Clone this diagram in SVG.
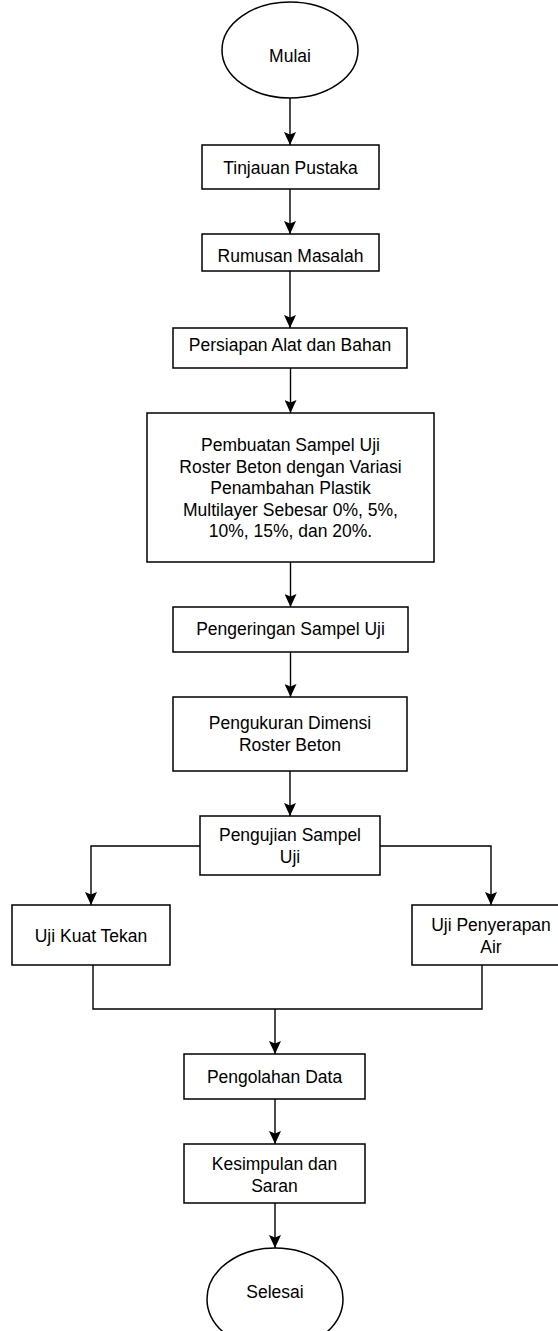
<svg xmlns="http://www.w3.org/2000/svg" width="558" height="1331" viewBox="0 0 558 1331">
  <style>
    .shape { fill: #ffffff; stroke: #000000; stroke-width: 1.5; }
    .edge { fill: none; stroke: #000000; stroke-width: 1.4; }
    .lbl { font-family: "Liberation Sans", Arial, sans-serif; font-size: 17.5px; fill: #000000; text-anchor: middle; }
  </style>
  <defs>
    <marker id="arrow" markerUnits="userSpaceOnUse" markerWidth="13" markerHeight="12" viewBox="0 0 13 12" refX="13" refY="6" orient="auto">
      <path d="M0,0 L13,6 L0,12 L2.5,6 Z" fill="#000000"/>
    </marker>
  </defs>
  <rect width="558" height="1331" fill="#ffffff"/>

  <g id="connectors">
    <line class="edge" x1="290" y1="98" x2="290" y2="145" marker-end="url(#arrow)"/>
    <line class="edge" x1="290" y1="189" x2="290" y2="234" marker-end="url(#arrow)"/>
    <line class="edge" x1="290" y1="271" x2="290" y2="328" marker-end="url(#arrow)"/>
    <line class="edge" x1="290.5" y1="368" x2="290.5" y2="413" marker-end="url(#arrow)"/>
    <line class="edge" x1="290.5" y1="562" x2="290.5" y2="607" marker-end="url(#arrow)"/>
    <line class="edge" x1="290.5" y1="652" x2="290.5" y2="697" marker-end="url(#arrow)"/>
    <line class="edge" x1="290" y1="771" x2="290" y2="816" marker-end="url(#arrow)"/>
    <polyline class="edge" points="200,846 91,846 91,905" marker-end="url(#arrow)"/>
    <polyline class="edge" points="380,846 491,846 491,905" marker-end="url(#arrow)"/>
    <polyline class="edge" points="93,965 93,1009 482,1009 482,965"/>
    <line class="edge" x1="275" y1="1009" x2="275" y2="1054" marker-end="url(#arrow)"/>
    <line class="edge" x1="275" y1="1099" x2="275" y2="1144" marker-end="url(#arrow)"/>
    <line class="edge" x1="275" y1="1203" x2="275" y2="1248" marker-end="url(#arrow)"/>
  </g>

  <g id="mulai">
    <ellipse class="shape" cx="290" cy="50" rx="68" ry="48"/>
    <text class="lbl" x="290" y="62">Mulai</text>
  </g>
  <g id="tinjauan">
    <rect class="shape" x="202" y="145" width="177" height="44"/>
    <text class="lbl" x="290.5" y="173.5">Tinjauan Pustaka</text>
  </g>
  <g id="rumusan">
    <rect class="shape" x="202" y="234" width="177" height="37"/>
    <text class="lbl" x="290.5" y="261.5">Rumusan Masalah</text>
  </g>
  <g id="persiapan">
    <rect class="shape" x="173" y="328" width="234" height="40"/>
    <text class="lbl" x="290" y="351">Persiapan Alat dan Bahan</text>
  </g>
  <g id="pembuatan">
    <rect class="shape" x="147" y="413" width="287" height="149"/>
    <text class="lbl" x="290.5" y="451">Pembuatan Sampel Uji</text>
    <text class="lbl" x="290.5" y="472.5">Roster Beton dengan Variasi</text>
    <text class="lbl" x="290.5" y="493.5">Penambahan Plastik</text>
    <text class="lbl" x="290.5" y="515.5">Multilayer Sebesar 0%, 5%,</text>
    <text class="lbl" x="290.5" y="536.5">10%, 15%, dan 20%.</text>
  </g>
  <g id="pengeringan">
    <rect class="shape" x="173" y="607" width="235" height="45"/>
    <text class="lbl" x="290.5" y="635">Pengeringan Sampel Uji</text>
  </g>
  <g id="pengukuran">
    <rect class="shape" x="173" y="697" width="234" height="74"/>
    <text class="lbl" x="290" y="729">Pengukuran Dimensi</text>
    <text class="lbl" x="290" y="751">Roster Beton</text>
  </g>
  <g id="pengujian">
    <rect class="shape" x="200" y="816" width="180" height="59"/>
    <text class="lbl" x="290" y="841">Pengujian Sampel</text>
    <text class="lbl" x="290" y="863">Uji</text>
  </g>
  <g id="uji-kuat-tekan">
    <rect class="shape" x="12" y="905" width="158" height="60"/>
    <text class="lbl" x="91" y="942">Uji Kuat Tekan</text>
  </g>
  <g id="uji-penyerapan-air">
    <rect class="shape" x="412" y="905" width="158" height="60"/>
    <text class="lbl" x="491" y="931">Uji Penyerapan</text>
    <text class="lbl" x="491" y="953">Air</text>
  </g>
  <g id="pengolahan">
    <rect class="shape" x="184" y="1054" width="181" height="45"/>
    <text class="lbl" x="274.5" y="1083">Pengolahan Data</text>
  </g>
  <g id="kesimpulan">
    <rect class="shape" x="184" y="1144" width="181" height="59"/>
    <text class="lbl" x="274.5" y="1170">Kesimpulan dan</text>
    <text class="lbl" x="274.5" y="1192">Saran</text>
  </g>
  <g id="selesai">
    <ellipse class="shape" cx="275" cy="1299" rx="68" ry="51"/>
    <text class="lbl" x="275" y="1298">Selesai</text>
  </g>
</svg>
